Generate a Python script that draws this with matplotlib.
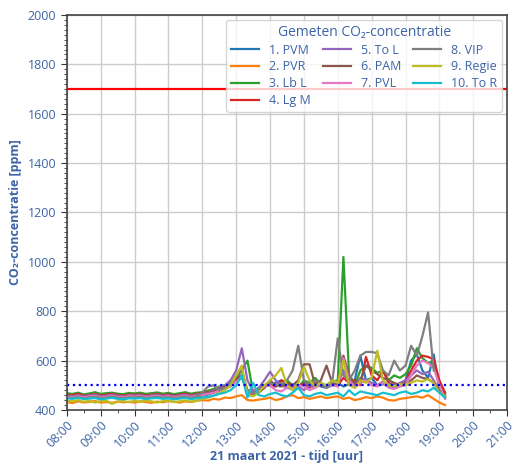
import numpy as np
import pandas as pd
import matplotlib
matplotlib.use("Agg")
from matplotlib import pyplot as plt
import matplotlib.dates as mdates
from matplotlib.ticker import MultipleLocator

TXT = '#3c64a6'
plt.rcParams['font.family'] = ['Open Sans', 'DejaVu Sans']

# meettijden: elke 10 minuten van 08:00 tot 19:10
tijd = pd.date_range('2021-03-21 08:00', '2021-03-21 19:10', freq='10min')

namen = ['1. PVM', '2. PVR', '3. Lb L', '4. Lg M', '5. To L',
         '6. PAM', '7. PVL', '8. VIP', '9. Regie', '10. To R']

pvm = [452, 450, 455, 448, 450, 453, 449, 451, 455, 450, 447, 452,
       450, 454, 449, 452, 448, 451, 455, 450, 453, 449, 452, 455,
       458, 462, 470, 478, 490, 505, 525, 540, 470, 468, 480, 495,
       500, 510, 520, 490, 485, 495, 510, 500, 505, 495, 490, 500,
       510, 495, 505, 520, 620, 520, 530, 500, 505, 495, 490, 500,
       520, 600, 625, 560, 530, 625, 480, 455]
pvr = [432, 428, 435, 430, 433, 436, 430, 432, 429, 434, 431, 433,
       430, 435, 432, 429, 434, 431, 436, 433, 430, 435, 432, 437,
       440, 438, 445, 442, 450, 448, 455, 460, 440, 438, 442, 445,
       450, 440, 445, 455, 460, 448, 452, 445, 450, 455, 448, 452,
       455, 445, 450, 440, 445, 452, 448, 455, 450, 440, 438, 445,
       448, 452, 455, 450, 460, 445, 430, 420]
lbl = [468, 465, 470, 463, 467, 472, 465, 468, 470, 466, 464, 469,
       467, 470, 465, 468, 471, 466, 469, 464, 468, 472, 466, 470,
       472, 478, 485, 495, 500, 510, 530, 560, 600, 470, 475, 490,
       510, 495, 505, 520, 500, 490, 520, 510, 530, 505, 500, 515,
       520, 1020, 540, 500, 560, 580, 570, 550, 560, 520, 540, 530,
       545, 580, 650, 610, 590, 600, 500, 470]
lgm = [462, 460, 465, 458, 461, 464, 459, 462, 466, 460, 458, 463,
       461, 464, 459, 462, 465, 460, 463, 458, 462, 466, 460, 464,
       468, 472, 478, 485, 490, 500, 520, 530, 480, 475, 485, 500,
       505, 495, 520, 510, 495, 500, 505, 490, 510, 500, 495, 505,
       500, 530, 510, 520, 500, 615, 540, 520, 560, 510, 500, 505,
       520, 560, 600, 620, 615, 605, 520, 470]
tol = [458, 456, 460, 455, 459, 461, 456, 458, 462, 457, 455, 460,
       458, 461, 456, 459, 462, 457, 460, 455, 459, 462, 457, 461,
       465, 470, 478, 490, 500, 520, 560, 650, 520, 475, 490, 520,
       555, 520, 500, 490, 505, 495, 480, 500, 490, 510, 495, 500,
       505, 560, 520, 500, 530, 520, 510, 500, 515, 505, 500, 510,
       520, 540, 560, 545, 555, 520, 480, 450]
pam = [455, 453, 457, 452, 456, 458, 453, 455, 459, 454, 452, 457,
       455, 458, 453, 456, 459, 454, 457, 452, 456, 459, 454, 458,
       462, 468, 475, 485, 495, 505, 530, 540, 470, 465, 470, 490,
       520, 500, 495, 510, 500, 520, 585, 585, 500, 520, 580, 510,
       500, 620, 540, 510, 520, 580, 560, 545, 530, 520, 510, 500,
       510, 520, 540, 530, 525, 510, 480, 460]
pvl = [454, 452, 456, 451, 455, 457, 452, 454, 458, 453, 451, 456,
       454, 457, 452, 455, 458, 453, 456, 451, 455, 458, 453, 457,
       460, 465, 470, 478, 485, 495, 515, 530, 475, 470, 480, 495,
       500, 480, 475, 490, 485, 500, 495, 480, 490, 505, 495, 500,
       495, 610, 520, 490, 510, 520, 500, 495, 510, 490, 485, 495,
       500, 540, 580, 600, 590, 570, 500, 445]
vip = [450, 448, 452, 447, 450, 453, 448, 450, 454, 449, 447, 451,
       450, 453, 448, 451, 454, 449, 452, 447, 451, 454, 449, 453,
       470, 495, 500, 480, 490, 505, 540, 560, 480, 470, 485, 500,
       510, 500, 505, 520, 560, 660, 520, 500, 520, 505, 490, 510,
       690, 540, 520, 560, 620, 635, 635, 630, 560, 540, 600, 560,
       580, 660, 620, 700, 795, 560, np.nan, np.nan]
regie = [438, 435, 440, 433, 437, 430, 436, 438, 425, 434, 436, 432,
         437, 433, 439, 435, 430, 436, 438, 432, 435, 439, 434, 437,
         445, 450, 458, 468, 480, 500, 540, 580, 460, 455, 470, 500,
         520, 540, 570, 500, 480, 510, 575, 520, 495, 510, 500, 520,
         510, 600, 500, 490, 520, 510, 530, 640, 520, 500, 495, 505,
         500, 510, 520, 515, 525, 510, 470, 455]
tor = [447, 445, 449, 444, 446, 448, 443, 446, 449, 445, 443, 447,
       446, 448, 444, 447, 449, 445, 447, 443, 446, 449, 444, 447,
       450, 453, 458, 465, 470, 480, 500, 540, 450, 510, 460, 455,
       465, 470, 460, 455, 470, 490, 460, 455, 465, 470, 460, 465,
       470, 455, 480, 460, 475, 470, 465, 460, 470, 465, 460, 470,
       475, 465, 470, 480, 475, 490, 470, 450]

reeksen = [pvm, pvr, lbl, lgm, tol, pam, pvl, vip, regie, tor]
grens_hoog = 1700
grens_laag = 500

fig = plt.figure(figsize=(5.18, 4.68), dpi=100)
ax = fig.add_axes([0.129, 0.124, 0.850, 0.844])

for naam, waarden in zip(namen, reeksen):
    ax.plot(tijd, waarden, linewidth=1.6, label=naam)

ax.axhline(grens_hoog, color='red', linewidth=1.6)
ax.axhline(grens_laag, color='blue', linestyle=':', linewidth=1.6)

ax.set_ylim(400, 2000)
ax.set_xlim(pd.Timestamp('2021-03-21 08:00'), pd.Timestamp('2021-03-21 21:00'))
ax.yaxis.set_major_locator(MultipleLocator(200))
ax.yaxis.set_minor_locator(MultipleLocator(20))
ax.xaxis.set_major_locator(mdates.HourLocator())
ax.xaxis.set_minor_locator(mdates.MinuteLocator(byminute=[30]))
ax.xaxis.set_major_formatter(mdates.DateFormatter('%H:%M'))

ax.grid(True, which='major', color='#cccccc', linewidth=1)
ax.tick_params(axis='both', which='major', labelsize=9, labelcolor=TXT, color='#333333', length=4)
ax.tick_params(axis='x', which='major', pad=2)
ax.tick_params(axis='both', which='minor', color='#333333', length=2)
for lbl_ in ax.get_xticklabels():
    lbl_.set_rotation(45)
    lbl_.set_ha('right')
    lbl_.set_rotation_mode('anchor')
for sp in ax.spines.values():
    sp.set_color('#444444')
    sp.set_linewidth(1.2)

ax.set_ylabel('CO₂-concentratie [ppm]', color=TXT, fontsize=9, fontweight='bold')
ax.set_xlabel('21 maart 2021 - tijd [uur]', color=TXT, fontsize=9, fontweight='bold', labelpad=0)

leg = ax.legend(loc='upper right', ncol=3, title='Gemeten CO₂-concentratie',
                fontsize=9, title_fontsize=10, handlelength=2.2, columnspacing=1.0,
                labelspacing=0.3, framealpha=0.8, borderaxespad=0.4)
leg.get_title().set_color(TXT)
for t in leg.get_texts():
    t.set_color(TXT)

fig.savefig('out.png', dpi=100)
